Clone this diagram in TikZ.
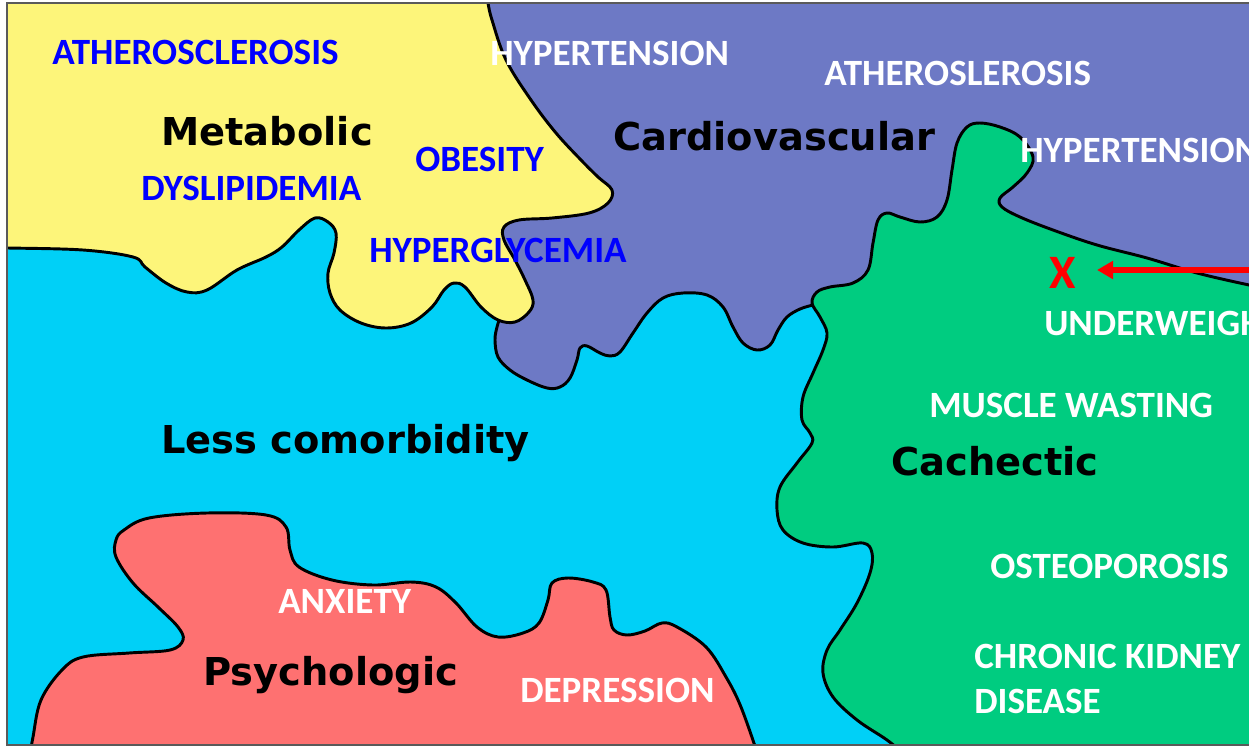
\documentclass[tikz,border=0pt]{standalone}
\usepackage{fontspec}
\usetikzlibrary{arrows.meta}
\newfontfamily\lblfont{Carlito}
\newfontfamily\catfont{DejaVu Sans}
\definecolor{cyanbg}{RGB}{0,208,247}
\definecolor{yellowreg}{RGB}{253,245,122}
\definecolor{purplereg}{RGB}{109,121,197}
\definecolor{greenreg}{RGB}{0,204,128}
\definecolor{redreg}{RGB}{254,113,113}
\definecolor{lblblue}{RGB}{0,0,255}
\definecolor{framegray}{RGB}{90,90,90}
\tikzset{
  region/.style={draw=black, line width=2.2pt, line join=round},
  lbl/.style={font=\lblfont\bfseries\fontsize{27.8}{30}\selectfont, anchor=base west, inner sep=0pt},
  bluelbl/.style={lbl, text=lblblue},
  whitelbl/.style={lbl, text=white},
  cat/.style={font=\catfont\bfseries\fontsize{28.8}{32}\selectfont, anchor=base west, inner sep=0pt, text=black},
}
\begin{document}
\begin{tikzpicture}[x=0.75pt, y=-0.75pt]
\useasboundingbox (0,0) rectangle (1249,747);
\fill[white] (0,0) rectangle (1249,747);
\begin{scope}
\clip (7,3) rectangle (1249,745);
\fill[cyanbg] (0,0) rectangle (1260,760);
% purple (cardiovascular)
\path[region, fill=purplereg] (470,-10) -- (1262,-10) -- (1262,295) -- (1000,300) -- (813,305)
  -- plot[smooth, tension=0.6] coordinates {(813,305) (800,309) (787,317) (778,330) (770,345) (757,350) (743,343) (733,327) (723,307) (707,295) (683,293) (663,298) (647,313) (633,333) (620,352) (610,356) (600,353) (587,346) (580,348) (577,360) (570,378) (560,387) (547,388) (527,380) (510,370) (498,357) (495,340) (497,327) (500,318)}
  -- (495,250) -- cycle;
% yellow (metabolic)
\path[region, fill=yellowreg] (-10,-10) -- (486,-10)
  -- plot[smooth, tension=0.6] coordinates {(486,-10) (488,3) (492,20) (506,60) (531,100) (556,133) (581,160) (598,177) (612,190) (608,203) (589,213) (552,218) (519,220) (504,227) (504,240) (515,260) (525,280) (533,300) (529,312) (515,322) (498,320) (481,307) (465,287) (454,283) (444,290) (432,307) (411,323) (386,328) (361,323) (340,310) (330,293) (328,273) (334,253) (336,233) (328,222) (315,218) (299,230) (282,247) (266,257) (237,270) (207,290) (187,292) (166,283) (145,267) (133,257) (83,250) (8,248) (-10,248)}
  -- cycle;
% green (cachectic)
\path[region, fill=greenreg]
  plot[smooth, tension=0.6] coordinates {(1265,288) (1249,285) (1197,273) (1147,258) (1097,245) (1053,230) (1020,217) (1002,207) (1000,198) (1013,187) (1027,173) (1033,157) (1020,137) (1000,127) (980,123) (967,127) (957,143) (952,170) (947,200) (937,217) (920,222) (900,217) (887,213) (878,220) (873,243) (868,270) (853,283) (830,287) (817,292) (812,303) (820,317) (827,333) (823,350) (813,373) (803,397) (802,420) (810,433) (812,443) (797,463) (780,487) (777,510) (783,530) (803,543) (833,547) (863,543) (872,553) (870,573) (857,603) (840,630) (827,650) (823,673) (833,697) (857,720) (887,740) (905,755)}
  -- (1265,760) -- cycle;
% red (psychologic)
\path[region, fill=redreg] (25,760)
  -- plot[smooth, tension=0.6] coordinates {(30,755) (33,737) (41,700) (62,670) (83,657) (129,653) (170,650) (183,640) (178,627) (158,607) (133,583) (116,557) (116,540) (124,530) (149,518) (207,513) (266,515) (286,527) (290,550) (299,567) (332,580) (373,585) (411,582) (436,587) (456,603) (477,627) (498,637) (523,633) (539,623) (548,600) (552,583) (568,578) (593,582) (606,590) (610,617) (614,630) (627,635) (645,631) (662,623) (677,627) (706,647) (726,677) (741,707) (758,755)}
  -- cycle;
% labels
\node[bluelbl] (ath1) at (52,64) {ATHEROSCLEROSIS};
\node[bluelbl] (obes) at (415,171) {OBESITY};
\node[bluelbl] (dysl) at (141,200) {DYSLIPIDEMIA};
\node[bluelbl] (hypg) at (369,262) {HYPERGLYCEMIA};
\node[whitelbl] (hyp1) at (490,65) {HYPERTENSION};
\node[whitelbl] (ath2) at (824,85) {ATHEROSLEROSIS};
\node[whitelbl] (hyp2) at (1020,162) {HYPERTENSION};
\node[whitelbl] (undw) at (1044,335) {UNDERWEIGHT};
\node[whitelbl] (musc) at (929,417) {MUSCLE WASTING};
\node[whitelbl] (oste) at (990,578) {OSTEOPOROSIS};
\node[whitelbl] (chr1) at (974,668) {CHRONIC KIDNEY};
\node[whitelbl] (chr2) at (974,713) {DISEASE};
\node[whitelbl] (anx) at (278,613) {ANXIETY};
\node[whitelbl] (depr) at (520,702) {DEPRESSION};
\node[cat] (metab) at (161,145) {Metabolic};
\node[cat] (cardio) at (613,150) {Cardiovascular};
\node[cat] (less) at (161,453) {Less comorbidity};
\node[cat] (cache) at (891,475) {Cachectic};
\node[cat] (psych) at (203,685) {Psychologic};
\node[font=\lblfont\bfseries\fontsize{36}{40}\selectfont, text=red, anchor=base west, inner sep=0pt] (xmark) at (1049,288) {X};
\coordinate (arrowtail) at (1262,270);
\coordinate (arrowtip) at (1097,270);
\draw[red, line width=3.8pt, -{Triangle[length=12pt, width=13pt]}] (arrowtail) -- (arrowtip);
\end{scope}
\draw[framegray, line width=0.8pt] (1260,3) -- (7,3) -- (7,745) -- (1260,745);
\end{tikzpicture}
\end{document}
